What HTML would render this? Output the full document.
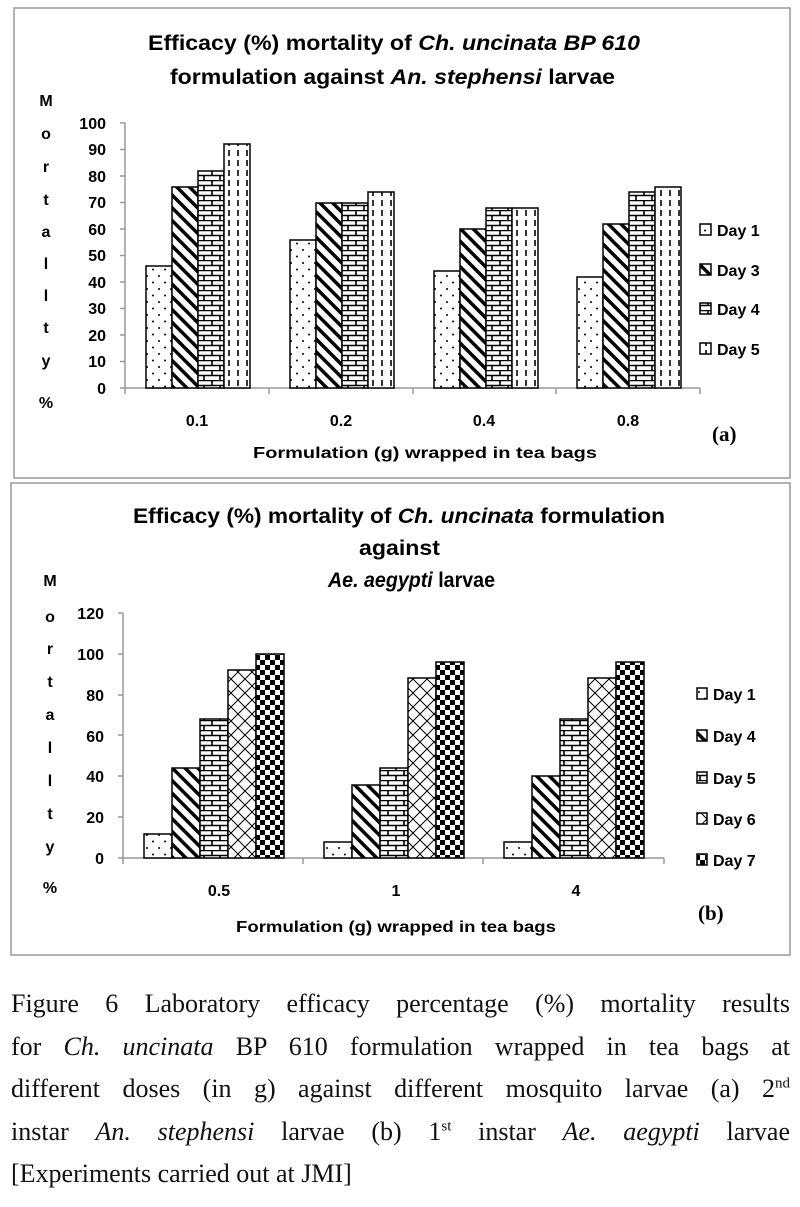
<!DOCTYPE html>
<html><head><meta charset="utf-8"><style>
body{margin:0;background:#fff;width:800px;height:1207px;overflow:hidden;position:relative}
svg{position:absolute;left:0;top:0}
.cap{position:absolute;left:11px;top:983px;width:779px;font-family:"Liberation Serif",serif;font-size:26px;line-height:42.5px;color:#111}
.cap div{white-space:nowrap;text-align:justify;text-align-last:justify}
.cap div.last{text-align-last:left}
sup{font-size:15px;line-height:0}
</style></head><body>
<svg width="800" height="980" font-family="Liberation Sans, sans-serif">
<defs>
<pattern id="dots" width="12" height="13" patternUnits="userSpaceOnUse"><rect width="12" height="13" fill="#fff"/><circle cx="3" cy="3" r="1" fill="#000"/><circle cx="9" cy="9.5" r="1" fill="#000"/></pattern>
<pattern id="diag" width="9" height="9" patternUnits="userSpaceOnUse" patternTransform="rotate(-45)"><rect width="9" height="9" fill="#fff"/><rect x="0" y="0" width="3.5" height="9" fill="#000"/></pattern>
<pattern id="brick" width="16" height="10" patternUnits="userSpaceOnUse"><rect width="16" height="10" fill="#fff"/><path d="M0 0.5H16M0 5.5H16M4 0.5V5.5M12 5.5V10" stroke="#000" stroke-width="1.6"/></pattern>
<pattern id="dash" width="9" height="10" patternUnits="userSpaceOnUse"><rect width="9" height="10" fill="#fff"/><path d="M4 0V6" stroke="#000" stroke-width="1.6"/></pattern>
<pattern id="cross" width="14" height="14" patternUnits="userSpaceOnUse"><rect width="14" height="14" fill="#fff"/><path d="M0 0L14 14M14 0L0 14" stroke="#000" stroke-width="1"/></pattern>
<pattern id="check" width="10" height="10" patternUnits="userSpaceOnUse"><rect width="10" height="10" fill="#fff"/><rect width="5" height="5" fill="#000"/><rect x="5" y="5" width="5" height="5" fill="#000"/></pattern>
</defs>
<!-- chart a -->
<rect x="14" y="8" width="776" height="470" fill="none" stroke="#999" stroke-width="1.5"/>
<g font-weight="bold" font-size="21" fill="#000">
<text x="148" y="50" textLength="492" lengthAdjust="spacingAndGlyphs">Efficacy (%) mortality of <tspan font-style="italic">Ch. uncinata BP 610</tspan></text>
<text x="170" y="84" textLength="445" lengthAdjust="spacingAndGlyphs">formulation against <tspan font-style="italic">An. stephensi</tspan> larvae</text>
</g>
<g font-weight="bold" font-size="16" text-anchor="middle">
<text x="46" y="106">M</text><text x="46" y="139">o</text><text x="46" y="172">r</text><text x="46" y="205">t</text><text x="46" y="237">a</text><text x="46" y="269">l</text><text x="46" y="301">l</text><text x="46" y="333">t</text><text x="46" y="366">y</text><text x="46" y="408">%</text>
</g>
<g font-weight="bold" font-size="16" text-anchor="end">
<text x="106" y="129">100</text><text x="106" y="155">90</text><text x="106" y="182">80</text><text x="106" y="208">70</text><text x="106" y="235">60</text><text x="106" y="261">50</text><text x="106" y="288">40</text><text x="106" y="314">30</text><text x="106" y="341">20</text><text x="106" y="367">10</text><text x="106" y="394">0</text>
</g>
<path d="M125 123V394M120 123H125M120 149.5H125M120 176H125M120 202.5H125M120 229H125M120 255.5H125M120 282H125M120 308.5H125M120 335H125M120 361.5H125M120 388H700M269 388V394M413 388V394M556 388V394M700 388V394" stroke="#999" stroke-width="1.5" fill="none"/>
<g stroke="#000" stroke-width="1.5">
<rect x="146" y="266" width="26" height="122" fill="url(#dots)"/><rect x="172" y="187" width="26" height="201" fill="url(#diag)"/><rect x="198" y="171" width="26" height="217" fill="url(#brick)"/><rect x="224" y="144" width="26" height="244" fill="url(#dash)"/>
<rect x="290" y="240" width="26" height="148" fill="url(#dots)"/><rect x="316" y="203" width="26" height="185" fill="url(#diag)"/><rect x="342" y="203" width="26" height="185" fill="url(#brick)"/><rect x="368" y="192" width="26" height="196" fill="url(#dash)"/>
<rect x="434" y="271" width="26" height="117" fill="url(#dots)"/><rect x="460" y="229" width="26" height="159" fill="url(#diag)"/><rect x="486" y="208" width="26" height="180" fill="url(#brick)"/><rect x="512" y="208" width="26" height="180" fill="url(#dash)"/>
<rect x="577" y="277" width="26" height="111" fill="url(#dots)"/><rect x="603" y="224" width="26" height="164" fill="url(#diag)"/><rect x="629" y="192" width="26" height="196" fill="url(#brick)"/><rect x="655" y="187" width="26" height="201" fill="url(#dash)"/>
<rect x="700" y="224" width="11" height="11" fill="url(#dots)"/><rect x="700" y="264" width="11" height="11" fill="url(#diag)"/><rect x="700" y="303" width="11" height="11" fill="url(#brick)"/><rect x="700" y="343" width="11" height="11" fill="url(#dash)"/>
</g>
<g font-weight="bold" font-size="16">
<text x="717" y="236">Day 1</text><text x="717" y="276">Day 3</text><text x="717" y="315">Day 4</text><text x="717" y="355">Day 5</text>
<g text-anchor="middle"><text x="197" y="426">0.1</text><text x="341" y="426">0.2</text><text x="484" y="426">0.4</text><text x="628" y="426">0.8</text></g>
<text x="253" y="458" textLength="344" lengthAdjust="spacingAndGlyphs">Formulation (g) wrapped in tea bags</text>
</g>
<text x="712" y="441" font-family="Liberation Serif, serif" font-weight="bold" font-size="21">(a)</text>
<!-- chart b -->
<rect x="11" y="483" width="779" height="472" fill="none" stroke="#999" stroke-width="1.5"/>
<g font-weight="bold" font-size="21">
<text x="133" y="523" textLength="532" lengthAdjust="spacingAndGlyphs">Efficacy (%) mortality of <tspan font-style="italic">Ch. uncinata</tspan> formulation</text>
<text x="359" y="555" textLength="81" lengthAdjust="spacingAndGlyphs">against</text>
<text x="328" y="587" textLength="167" lengthAdjust="spacingAndGlyphs"><tspan font-style="italic">Ae. aegypti</tspan> larvae</text>
</g>
<g font-weight="bold" font-size="16" text-anchor="middle">
<text x="50" y="586">M</text><text x="50" y="622">o</text><text x="50" y="654">r</text><text x="50" y="687">t</text><text x="50" y="720">a</text><text x="50" y="753">l</text><text x="50" y="786">l</text><text x="50" y="819">t</text><text x="50" y="852">y</text><text x="50" y="893">%</text>
</g>
<g font-weight="bold" font-size="16" text-anchor="end">
<text x="104" y="619">120</text><text x="104" y="660">100</text><text x="104" y="701">80</text><text x="104" y="742">60</text><text x="104" y="782">40</text><text x="104" y="823">20</text><text x="104" y="864">0</text>
</g>
<path d="M123 613V864M118 613H123M118 654H123M118 695H123M118 735H123M118 776H123M118 817H123M118 858H664M303 858V864M483 858V864M664 858V864" stroke="#999" stroke-width="1.5" fill="none"/>
<g stroke="#000" stroke-width="1.5">
<rect x="144" y="834" width="28" height="24" fill="url(#dots)"/><rect x="172" y="768" width="28" height="90" fill="url(#diag)"/><rect x="200" y="719" width="28" height="139" fill="url(#brick)"/><rect x="228" y="670" width="28" height="188" fill="url(#cross)"/><rect x="256" y="654" width="28" height="204" fill="url(#check)"/>
<rect x="324" y="842" width="28" height="16" fill="url(#dots)"/><rect x="352" y="785" width="28" height="73" fill="url(#diag)"/><rect x="380" y="768" width="28" height="90" fill="url(#brick)"/><rect x="408" y="678" width="28" height="180" fill="url(#cross)"/><rect x="436" y="662" width="28" height="196" fill="url(#check)"/>
<rect x="504" y="842" width="28" height="16" fill="url(#dots)"/><rect x="532" y="776" width="28" height="82" fill="url(#diag)"/><rect x="560" y="719" width="28" height="139" fill="url(#brick)"/><rect x="588" y="678" width="28" height="180" fill="url(#cross)"/><rect x="616" y="662" width="28" height="196" fill="url(#check)"/>
<rect x="697" y="688" width="10" height="11" fill="url(#dots)"/><rect x="697" y="730" width="10" height="11" fill="url(#diag)"/><rect x="697" y="772" width="10" height="11" fill="url(#brick)"/><rect x="697" y="813" width="10" height="11" fill="url(#cross)"/><rect x="697" y="854" width="10" height="11" fill="url(#check)"/>
</g>
<g font-weight="bold" font-size="16">
<text x="713" y="700">Day 1</text><text x="713" y="742">Day 4</text><text x="713" y="784">Day 5</text><text x="713" y="825">Day 6</text><text x="713" y="866">Day 7</text>
<g text-anchor="middle"><text x="219" y="896">0.5</text><text x="396" y="896">1</text><text x="576" y="896">4</text></g>
<text x="236" y="932" textLength="320" lengthAdjust="spacingAndGlyphs">Formulation (g) wrapped in tea bags</text>
</g>
<text x="698" y="920" font-family="Liberation Serif, serif" font-weight="bold" font-size="21">(b)</text>
</svg>
<div class="cap">
<div>Figure 6 Laboratory efficacy percentage (%) mortality results</div>
<div>for <i>Ch. uncinata</i> BP 610 formulation wrapped in tea bags at</div>
<div>different doses (in g) against different mosquito larvae (a) 2<sup>nd</sup></div>
<div>instar <i>An. stephensi</i> larvae (b) 1<sup>st</sup> instar <i>Ae. aegypti</i> larvae</div>
<div class="last">[Experiments carried out at JMI]</div>
</div>
</body></html>
